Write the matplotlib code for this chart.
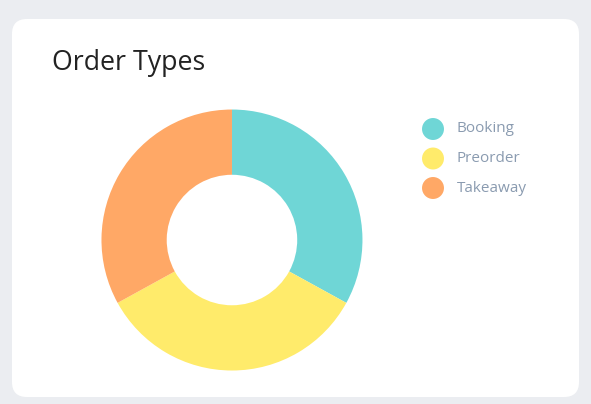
import matplotlib.pyplot as plt
from matplotlib.patches import FancyBboxPatch

labels = ["Booking", "Preorder", "Takeaway"]
values = [33, 34, 33]
colors = ["#6fd6d6", "#ffeb6b", "#ffa866"]

fig = plt.figure(figsize=(5.91, 4.04), dpi=100)
fig.patch.set_facecolor("#ebedf1")

# background layer in pixel coords
bg = fig.add_axes([0, 0, 1, 1])
bg.set_xlim(0, 591)
bg.set_ylim(404, 0)
bg.axis("off")
card = FancyBboxPatch((12 + 15, 19 + 15), 567 - 30, 378 - 30,
                      boxstyle="round,pad=15", fc="white", ec="none")
bg.add_patch(card)
bg.text(52, 63, "Order Types", fontsize=19.3, color="#222222",
        family="Open Sans", va="center", ha="left")

# legend
for i, (lab, col) in enumerate(zip(labels, colors)):
    y = 129 + i * 29.5
    bg.scatter([433], [y], s=250, color=col, edgecolors="none")
    bg.text(457, y, lab, fontsize=11, color="#8a9bb0",
            family="Open Sans", va="center", ha="left")

# donut
ax = fig.add_axes([0.1717, 0.0829, 0.4416, 0.646])
ax.pie(values, colors=colors, startangle=90, counterclock=False,
       wedgeprops=dict(width=0.5, edgecolor="none"))
ax.set_xlim(-1, 1)
ax.set_ylim(-1, 1)
ax.set_aspect("equal")

fig.savefig("out.png", dpi=100, facecolor=fig.get_facecolor())
